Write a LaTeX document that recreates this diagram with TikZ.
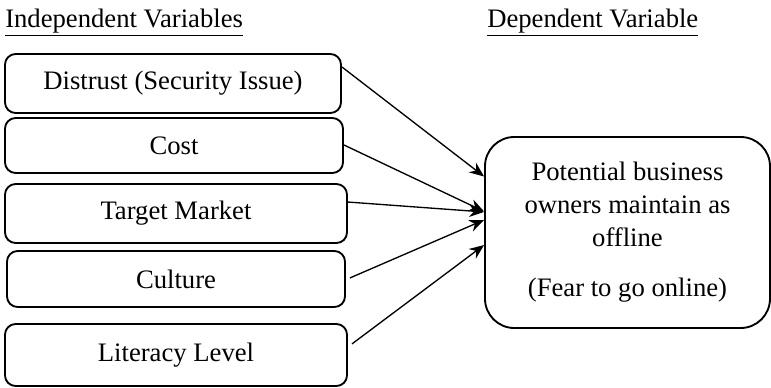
\documentclass[tikz,border=0pt]{standalone}
\usepackage{fontspec}
\setmainfont{Liberation Serif}
\usetikzlibrary{arrows.meta}
\begin{document}
\begin{tikzpicture}[x=0.75pt,y=-0.75pt,
  every node/.style={font=\fontsize{20}{24.75}\selectfont, inner sep=0pt},
  varbox/.style={draw, line width=1.4pt, rounded corners=8pt},
  depbox/.style={draw, line width=1.4pt, rounded corners=22pt, align=center},
  heading/.style={anchor=base west},
  arr/.style={line width=1pt, -{Stealth[length=11pt,width=9pt]}}]
\useasboundingbox (0,0) rectangle (771,387);

% column headings
\node[heading] (hind) at (5,27.5) {\underline{Independent Variables}};
\node[heading] (hdep) at (487,27.5) {\underline{Dependent Variable}};

% independent variables
\node[varbox, minimum width=252pt, minimum height=44.25pt] (b1) at (173,83.5) {Distrust (Security Issue)};
\node[varbox, minimum width=253.5pt, minimum height=41.25pt] (b2) at (174,145.5) {Cost};
\node[varbox, minimum width=256.5pt, minimum height=44.25pt] (b3) at (176,213.5) {Target Market};
\node[varbox, minimum width=253.5pt, minimum height=42pt] (b4) at (176,279) {Culture};
\node[varbox, minimum width=256.5pt, minimum height=46.5pt] (b5) at (176,355) {Literacy Level};

% dependent variable
\node[depbox, minimum width=213.75pt, minimum height=143.25pt] (dv) at (627.5,232.5)
  {Potential business\\owners maintain as\\offline\\[12.75pt](Fear to go online)};

% influences
\draw[arr] ([yshift=12.4pt]b1.east) -- ([yshift=42pt]dv.west);
\draw[arr] ([yshift=0.4pt]b2.east) -- ([yshift=15.8pt]dv.west);
\draw[arr] ([yshift=8.6pt]b3.east) -- ([yshift=15.4pt]dv.west);
\draw[arr] ([xshift=3pt,yshift=0.8pt]b4.east) -- ([yshift=9.4pt]dv.west);
\draw[arr] ([xshift=3pt,yshift=8.3pt]b5.east) -- ([yshift=-9.4pt]dv.west);
\end{tikzpicture}
\end{document}
